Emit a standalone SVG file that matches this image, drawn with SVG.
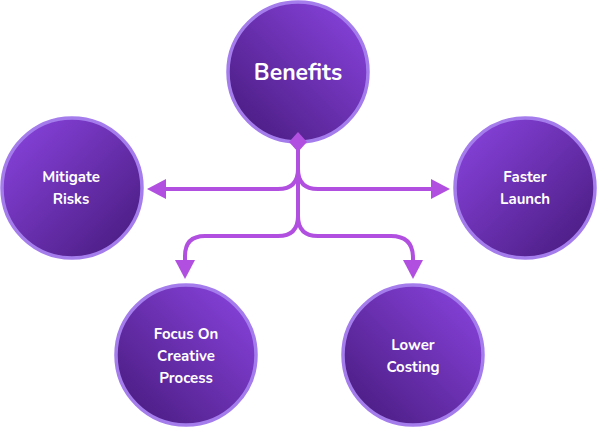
<svg xmlns="http://www.w3.org/2000/svg" width="597" height="427" viewBox="0 0 597 427">
<style>
.node circle{stroke:#a47cec;stroke-width:3.5}
.t{font-family:"Nunito","Lato","Noto Sans",sans-serif;font-weight:700;fill:#ffffff;text-anchor:middle}
.s{font-size:15px}
.con path.l{fill:none;stroke:#b150e0;stroke-width:4;stroke-linecap:round}
.con .h{fill:#b150e0}
</style>
<defs>
<linearGradient id="gA" x1="0" y1="0" x2="1" y2="1">
<stop offset="0" stop-color="#8c45e2"/>
<stop offset="1" stop-color="#45197a"/>
</linearGradient>
<linearGradient id="gB" x1="1" y1="0" x2="0" y2="1">
<stop offset="0" stop-color="#8c45e2"/>
<stop offset="1" stop-color="#45197a"/>
</linearGradient>
</defs>
<g class="con" id="connectors">
<path class="l" d="M298 150 V169 Q298 189 278 189 H164"/>
<path class="l" d="M298 150 V169 Q298 189 318 189 H433"/>
<path class="l" d="M298 169 V216 Q298 236 278 236 H205 Q185 236 185 256 V262"/>
<path class="l" d="M298 216 Q298 236 318 236 H391 Q413 236 413 258 V262"/>
<polygon class="h" points="147,189 166,179 166,199"/>
<polygon class="h" points="450,189 431,179 431,199"/>
<polygon class="h" points="185,279 175,260 195,260"/>
<polygon class="h" points="413,279 403,260 423,260"/>
</g>
<g class="node" id="benefits">
<circle cx="298" cy="72" r="70" fill="url(#gB)"/>
<text class="t" x="298" y="80" font-size="23">Benefits</text>
</g>
<polygon id="diamond" points="298,132 307,142 298,152 289,142" fill="#b150e0"/>
<g class="node" id="mitigate">
<circle cx="72" cy="188" r="70" fill="url(#gA)"/>
<text class="t s" x="71" y="182">Mitigate</text>
<text class="t s" x="71" y="204">Risks</text>
</g>
<g class="node" id="faster">
<circle cx="525" cy="188" r="70" fill="url(#gA)"/>
<text class="t s" x="525" y="182">Faster</text>
<text class="t s" x="525" y="204">Launch</text>
</g>
<g class="node" id="focus">
<circle cx="186" cy="355" r="70" fill="url(#gB)"/>
<text class="t s" x="186" y="339">Focus On</text>
<text class="t s" x="186" y="361">Creative</text>
<text class="t s" x="186" y="383">Process</text>
</g>
<g class="node" id="lower">
<circle cx="413" cy="355" r="70" fill="url(#gB)"/>
<text class="t s" x="413" y="350">Lower</text>
<text class="t s" x="413" y="372">Costing</text>
</g>
</svg>
